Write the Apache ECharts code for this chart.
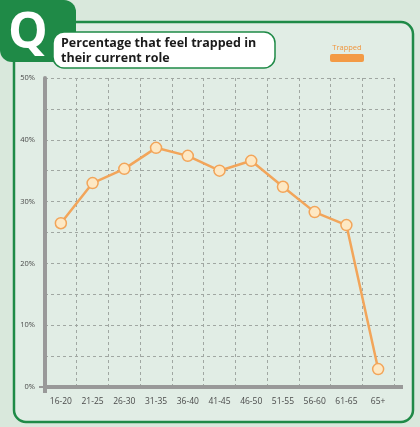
<!DOCTYPE html>
<html>
<head>
<meta charset="utf-8">
<script src="https://cdn.jsdelivr.net/npm/echarts@6/dist/echarts.min.js"></script>
<style>
html,body{margin:0;padding:0;background:#d9e8dc;}
#c{width:420px;height:427px;}
</style>
</head>
<body>
<div id="c"></div>
<script>
var categories = ['16-20','21-25','26-30','31-35','36-40','41-45','46-50','51-55','56-60','61-65','65+'];
var trapped = [26.5, 33.0, 35.3, 38.7, 37.4, 35.0, 36.6, 32.4, 28.3, 26.2, 2.9];
var seriesName = 'Trapped';
var titleLines = ['Percentage that feel trapped in', 'their current role'];

var green = '#1f8a47';
var orange = '#f2a55a';

var chart = echarts.init(document.getElementById('c'));
chart.setOption({
  backgroundColor: '#d9e8dc',
  animation: false,
  graphic: [
    { type: 'rect', z: -10, shape: { x: 14, y: 22, width: 399, height: 400, r: 12 },
      style: { fill: '#e1ede5', stroke: green, lineWidth: 2.5 } },
    { type: 'rect', z: -5, shape: { x: 0, y: 0, width: 76, height: 62, r: [0, 12, 12, 12] },
      style: { fill: green } },
    { type: 'text', z: -4, style: { text: 'Q', x: 28, y: 34, align: 'center', verticalAlign: 'middle',
      font: 'bold 50px "Open Sans", sans-serif', fill: '#ffffff' } },
    { type: 'rect', z: -3, shape: { x: 53, y: 32, width: 222, height: 36, r: 11 },
      style: { fill: '#ffffff', stroke: green, lineWidth: 1.5 } },
    { type: 'text', z: 5, style: { text: seriesName, x: 347, y: 48, align: 'center', verticalAlign: 'middle',
      font: '7.5px "Open Sans", sans-serif', fill: '#f0953d' } },
    { type: 'rect', z: 5, shape: { x: 330, y: 54, width: 34, height: 8, r: 2 },
      style: { fill: '#f39a45' } },
    { type: 'line', z: 3, shape: { x1: 394, y1: 387, x2: 403, y2: 387 },
      style: { stroke: '#999999', lineWidth: 4 } },
    { type: 'line', z: 3, shape: { x1: 39, y1: 387, x2: 45, y2: 387 },
      style: { stroke: '#999999', lineWidth: 2 } },
    { type: 'line', z: 3, shape: { x1: 45, y1: 387, x2: 45, y2: 393 },
      style: { stroke: '#999999', lineWidth: 4 } }
  ],
  title: {
    text: titleLines.join('\n'),
    left: 61, top: 36, padding: 0,
    textStyle: { fontSize: 12.5, fontWeight: 'bold', color: '#1b1b1b', lineHeight: 15,
      fontFamily: '"Open Sans", sans-serif' }
  },
  grid: { left: 45, right: 26, top: 78, bottom: 40 },
  xAxis: {
    type: 'category',
    data: categories,
    boundaryGap: true,
    axisLine: { lineStyle: { color: '#999999', width: 4 } },
    axisTick: { show: false },
    axisLabel: { color: '#4a4a4a', fontSize: 8.5, margin: 10, interval: 0,
      fontFamily: '"Open Sans", sans-serif' },
    splitLine: { show: true, interval: 0, lineStyle: { color: '#a0a7a2', type: [3, 3], width: 1 } }
  },
  yAxis: {
    type: 'value',
    min: 0, max: 50, interval: 5,
    axisLine: { show: true, lineStyle: { color: '#999999', width: 4 } },
    axisTick: { show: false },
    axisLabel: {
      color: '#4a4a4a', fontSize: 7.5, margin: 10,
      fontFamily: '"Open Sans", sans-serif',
      formatter: function (v) { return v % 10 === 0 ? v + '%' : ''; }
    },
    splitLine: { show: true, lineStyle: { color: '#a0a7a2', type: [3, 3], width: 1 } }
  },
  series: [{
    name: seriesName,
    type: 'line',
    data: trapped,
    symbol: 'circle',
    symbolSize: 11,
    lineStyle: { color: orange, width: 2.5 },
    itemStyle: { color: '#fde8c4', borderColor: orange, borderWidth: 1.5 },
    z: 4
  }]
});
</script>
</body>
</html>
